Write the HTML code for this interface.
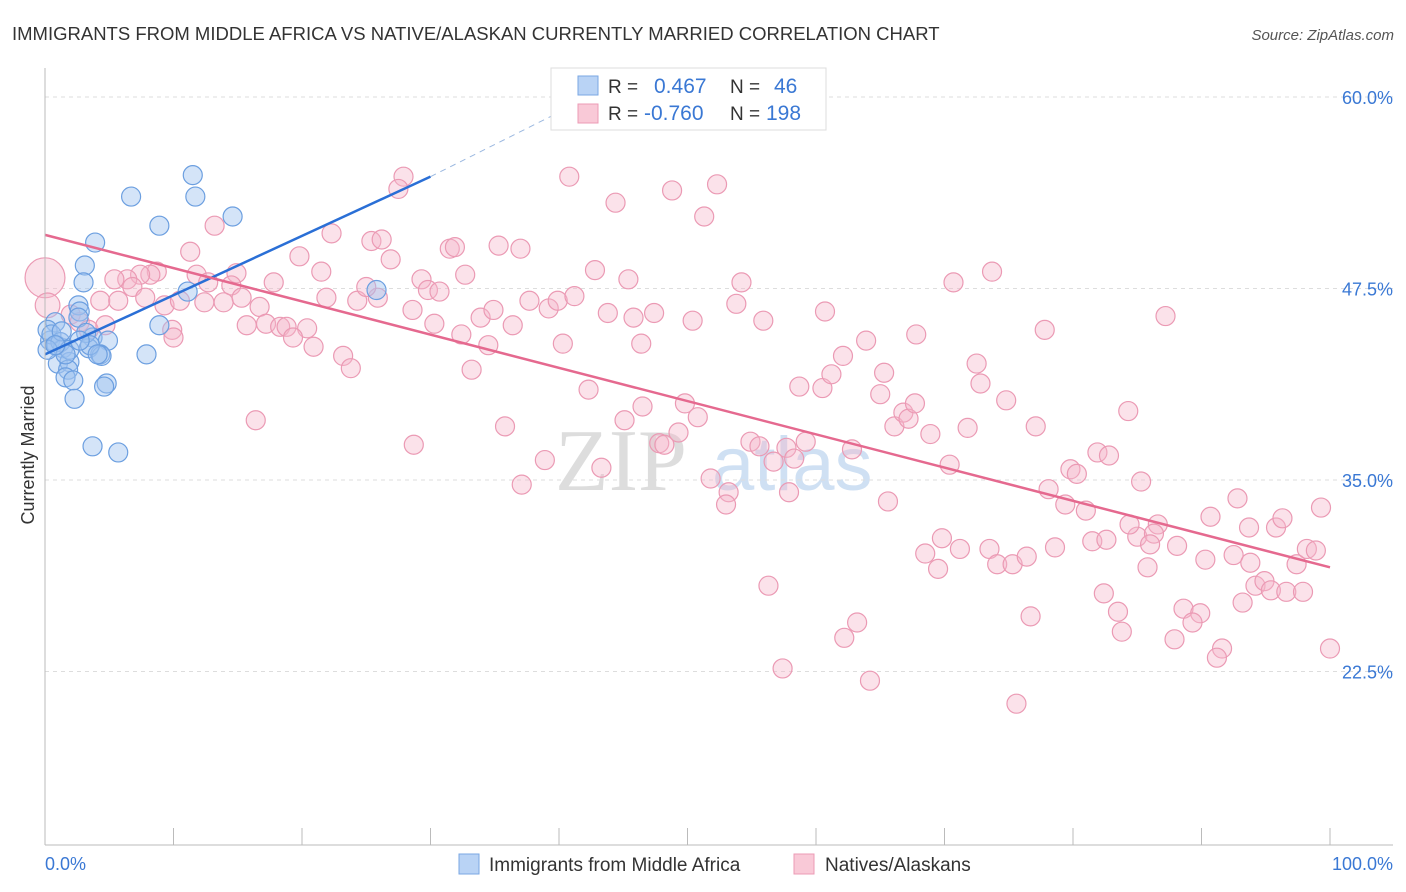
<!DOCTYPE html>
<html><head><meta charset="utf-8"><style>
body{margin:0;background:#fff;font-family:"Liberation Sans",sans-serif;}
svg{display:block}
</style></head><body>
<svg id="c" width="1406" height="892" xmlns="http://www.w3.org/2000/svg">
<text x="12" y="40" font-size="18.5" fill="#333">IMMIGRANTS FROM MIDDLE AFRICA VS NATIVE/ALASKAN CURRENTLY MARRIED CORRELATION CHART</text>
<text x="1394" y="40" font-size="15" fill="#555" font-style="italic" text-anchor="end">Source: ZipAtlas.com</text>
<text transform="translate(34,455) rotate(-90)" font-size="18" fill="#333" text-anchor="middle">Currently Married</text>
<g><text x="555" y="490" font-size="88" fill="#ddd" font-family="Liberation Serif,serif">ZIP</text><text x="712" y="490" font-size="76" fill="#cfe0f3">atlas</text></g>
<g id="grid"></g><g id="pts"></g><g id="trend"></g>
<line x1="45" y1="68" x2="45" y2="845" stroke="#bbb"/>
<line x1="45" y1="845" x2="1393" y2="845" stroke="#bbb"/>
<text x="45" y="870" font-size="18" fill="#3a78d4">0.0%</text>
<text x="1393" y="870" font-size="18" fill="#3a78d4" text-anchor="end">100.0%</text>
<g>
<rect x="551" y="68" width="275" height="62" fill="#fff" stroke="#ddd"/>
<rect x="578" y="76" width="20" height="19" fill="#b9d3f5" stroke="#7aa7e3"/>
<rect x="578" y="104" width="20" height="19" fill="#f9c9d7" stroke="#ec9bb6"/>
<text x="608" y="93" font-size="19" fill="#333">R =</text><text x="654" y="93" font-size="21" fill="#3a78d4">0.467</text>
<text x="730" y="93" font-size="19" fill="#333">N =</text><text x="774" y="93" font-size="21" fill="#3a78d4">46</text>
<text x="608" y="120" font-size="19" fill="#333">R =</text><text x="644" y="120" font-size="21" fill="#3a78d4">-0.760</text>
<text x="730" y="120" font-size="19" fill="#333">N =</text><text x="766" y="120" font-size="21" fill="#3a78d4">198</text>
</g>
<g>
<rect x="459" y="854" width="20" height="20" fill="#b9d3f5" stroke="#7aa7e3"/>
<text x="489" y="871" font-size="19" fill="#333">Immigrants from Middle Africa</text>
<rect x="794" y="854" width="20" height="20" fill="#f9c9d7" stroke="#ec9bb6"/>
<text x="825" y="871" font-size="19" fill="#333">Natives/Alaskans</text>
</g>
</svg>
<script>
const yTicks=[60,47.5,35,22.5];
const yTickLabels=["60.0%","47.5%","35.0%","22.5%"];
const xTicks=[0,10,20,30,40,50,60,70,80,90,100];
const blueX=[11.5,11.7,6.7,14.6,8.9,3.9,3.1,3.0,11.1,25.8,2.6,8.9,0.8,2.7,2.6,3.7,4.9,0.4,0.9,1.4,3.4,7.9,4.3,1.0,1.9,1.8,1.6,2.2,4.8,4.6,2.3,3.7,5.7,0.2,0.5,1.2,4.4,3.2,1.3,0.2,1.9,3.5,4.1,2.7,1.6,0.8];
const blueY=[54.9,53.5,53.5,52.2,51.6,50.5,49.0,47.9,47.3,47.4,46.4,45.1,45.3,46.0,45.6,44.3,44.1,44.1,43.8,43.6,43.6,43.2,43.2,42.6,42.7,42.2,41.7,41.5,41.3,41.1,40.3,37.2,36.8,44.8,44.5,44.0,43.1,44.6,44.7,43.5,43.5,43.8,43.2,44.1,43.2,43.8];
const pinkX=[0.0,0.2,27.9,27.5,40.8,44.4,48.8,52.3,51.3,13.2,22.3,25.4,26.2,31.5,31.9,35.3,37.0,11.3,19.8,26.9,21.5,29.3,32.7,42.8,45.4,54.2,70.7,73.7,8.7,8.2,7.4,6.4,5.4,11.8,14.9,12.7,14.5,17.8,6.8,4.3,5.7,7.8,9.3,10.5,12.4,13.9,15.3,16.7,21.9,24.3,25.9,25.0,29.8,30.7,28.6,33.9,34.9,37.7,39.2,39.9,41.2,43.8,45.8,47.4,50.4,53.8,55.9,60.7,2.0,2.7,3.4,4.7,9.9,10.0,15.7,17.2,18.3,18.8,20.4,19.3,30.3,32.4,34.5,36.4,40.3,46.4,20.9,23.2,23.8,33.2,42.3,46.5,49.8,50.8,58.7,60.5,61.2,62.1,63.9,65.3,65.0,67.8,72.5,72.8,74.8,77.8,87.2,84.3,16.4,28.7,35.8,38.9,37.1,43.3,45.1,47.8,48.2,49.3,51.8,53.2,53.0,54.9,55.6,56.7,57.7,58.3,57.9,59.2,62.8,66.1,66.8,67.2,67.7,68.9,70.4,71.8,77.1,65.6,78.1,79.8,80.3,79.4,81.0,81.9,82.8,85.3,86.6,90.7,92.8,93.7,95.8,96.3,99.3,69.8,68.5,69.5,71.2,73.5,74.1,75.3,76.4,78.6,81.5,85.0,86.3,88.1,85.8,90.3,92.5,93.8,97.4,98.2,98.9,94.2,94.9,95.4,96.6,97.9,56.3,63.2,62.2,57.4,64.2,76.7,82.4,83.5,83.8,87.9,88.6,89.9,89.3,91.6,91.2,93.2,100.0,75.6,84.4,86.0,82.6];
const pinkY=[48.2,46.4,54.8,54.0,54.8,53.1,53.9,54.3,52.2,51.6,51.1,50.6,50.7,50.1,50.2,50.3,50.1,49.9,49.6,49.4,48.6,48.1,48.4,48.7,48.1,47.9,47.9,48.6,48.6,48.4,48.4,48.1,48.1,48.4,48.5,47.9,47.7,47.9,47.6,46.7,46.7,46.9,46.4,46.7,46.6,46.6,46.9,46.3,46.9,46.7,46.9,47.6,47.4,47.3,46.1,45.6,46.1,46.7,46.2,46.7,47.0,45.9,45.6,45.9,45.4,46.5,45.4,46.0,45.8,45.3,44.8,45.1,44.8,44.3,45.1,45.2,45.0,45.0,44.9,44.3,45.2,44.5,43.8,45.1,43.9,43.9,43.7,43.1,42.3,42.2,40.9,39.8,40.0,39.1,41.1,41.0,41.9,43.1,44.1,42.0,40.6,44.5,42.6,41.3,40.2,44.8,45.7,39.5,38.9,37.3,38.5,36.3,34.7,35.8,38.9,37.4,37.3,38.1,35.1,34.2,33.4,37.5,37.2,36.2,37.1,36.4,34.2,37.5,37.0,38.5,39.4,39.0,40.0,38.0,36.0,38.4,38.5,33.6,34.4,35.7,35.4,33.4,33.0,36.8,36.6,34.9,32.1,32.6,33.8,31.9,31.9,32.5,33.2,31.2,30.2,29.2,30.5,30.5,29.5,29.5,30.0,30.6,31.0,31.3,31.5,30.7,29.3,29.8,30.1,29.6,29.5,30.5,30.4,28.1,28.4,27.8,27.7,27.7,28.1,25.7,24.7,22.7,21.9,26.1,27.6,26.4,25.1,24.6,26.6,26.3,25.7,24.0,23.4,27.0,24.0,20.4,32.1,30.8,31.1];
const pinkSize=[2.1,1.3];
const blueTrendX=[0,30,40];
const blueTrendY=[43.2,54.8,59.0];
const pinkTrendX=[0,100];
const pinkTrendY=[51.0,29.3];
const NS="http://www.w3.org/2000/svg";
const sx=v=>45+v*12.85;
const sy=v=>97+(60-v)*15.32;
function mk(tag,attrs,parent){const e=document.createElementNS(NS,tag);for(const k in attrs)e.setAttribute(k,attrs[k]);parent.appendChild(e);return e;}
const grid=document.getElementById('grid');
yTicks.forEach((t,i)=>{
 const l=mk('line',{x1:45,x2:1393,y1:sy(t),y2:sy(t),stroke:'#ddd','stroke-dasharray':'4,4'},grid);
 
 
 const tx=mk('text',{x:1393,y:sy(t)+7,'text-anchor':'end','font-size':18,fill:'#3a78d4'},grid);
 tx.textContent=yTickLabels[i];
 
 
});
xTicks.forEach(t=>{
 const l=mk('line',{x1:sx(t),x2:sx(t),y1:828,y2:845,stroke:'#bbb'},grid);
 
 
});
const pts=document.getElementById('pts');
pinkX.forEach((x,i)=>{
 const c=mk('circle',{cx:sx(x),cy:sy(pinkY[i]),r:9.5*(pinkSize[i]||1),fill:'rgba(246,182,202,0.4)',stroke:'#eb9ab4','stroke-width':1.2},pts);
 
 
});
blueX.forEach((x,i)=>{
 const c=mk('circle',{cx:sx(x),cy:sy(blueY[i]),r:9.5,fill:'rgba(160,196,240,0.45)',stroke:'#6c9fe0','stroke-width':1.2},pts);
 
 
});
const tr=document.getElementById('trend');
const b1=mk('line',{x1:sx(blueTrendX[0]),y1:sy(blueTrendY[0]),x2:sx(blueTrendX[1]),y2:sy(blueTrendY[1]),stroke:'#2a6fd6','stroke-width':2.5},tr);


const b2=mk('line',{x1:sx(blueTrendX[1]),y1:sy(blueTrendY[1]),x2:sx(blueTrendX[2]),y2:sy(blueTrendY[2]),stroke:'#9bb8e0','stroke-width':1,'stroke-dasharray':'6,5'},tr);


const p1=mk('line',{x1:sx(pinkTrendX[0]),y1:sy(pinkTrendY[0]),x2:sx(pinkTrendX[1]),y2:sy(pinkTrendY[1]),stroke:'#e5698f','stroke-width':2.5},tr);


</script>
</body></html>
